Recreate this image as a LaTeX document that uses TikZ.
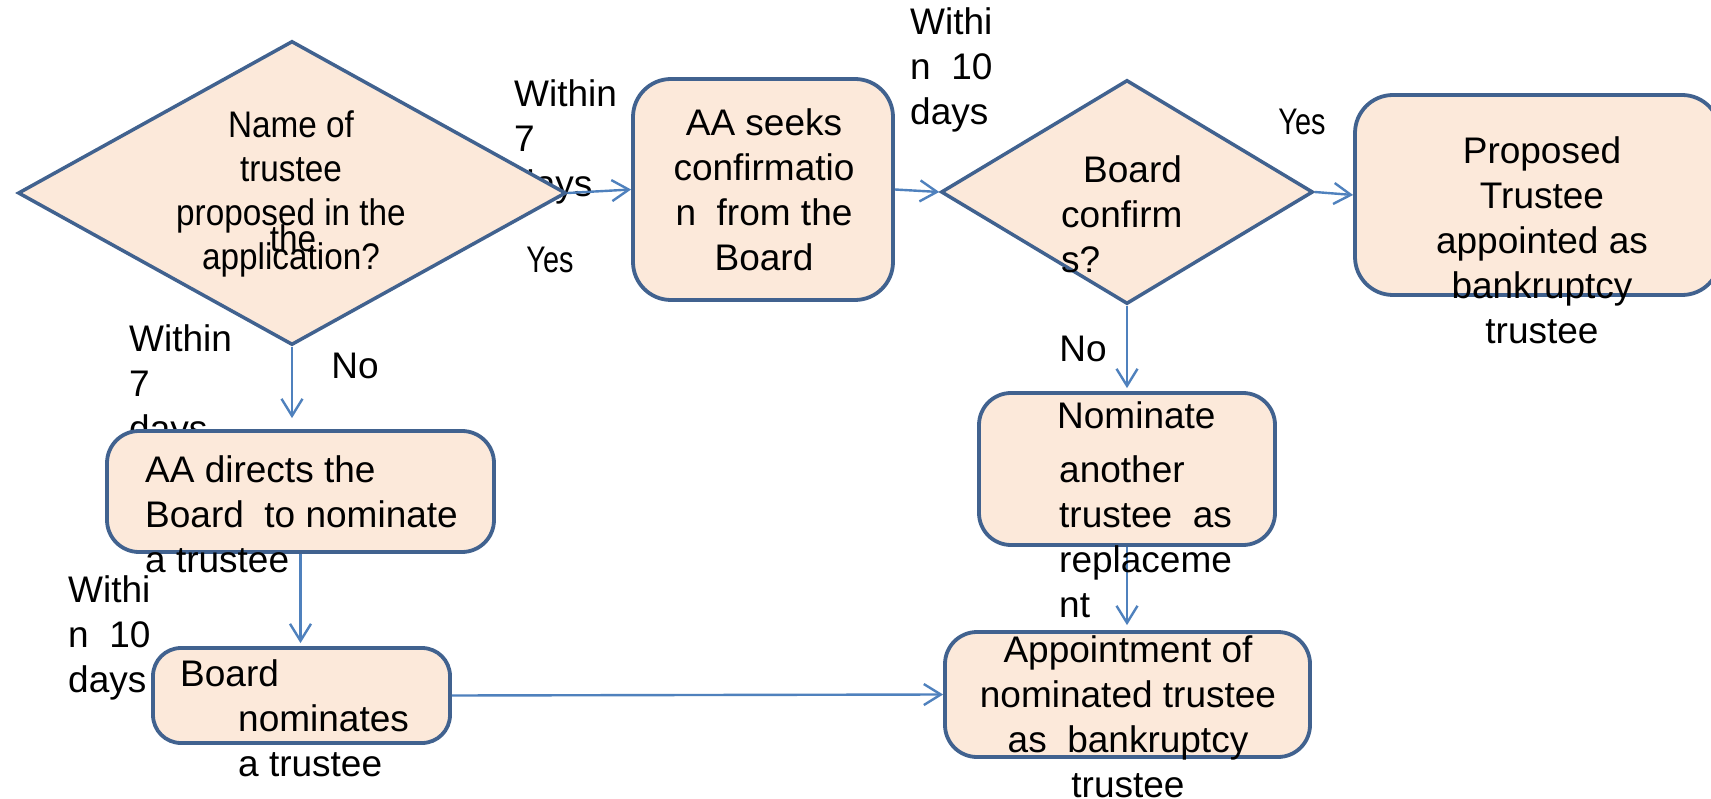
\documentclass[tikz,border=0pt]{standalone}
\usepackage{fontspec}
\setmainfont{Liberation Sans}
\newfontfamily\narrowfont[FakeStretch=0.9]{Liberation Sans}
\newfontfamily\yesfont[FakeStretch=0.78]{Liberation Sans}
\usetikzlibrary{arrows.meta,shapes.geometric}
\definecolor{boxfill}{HTML}{FCE9DA}
\definecolor{boxline}{HTML}{41628F}
\definecolor{flowblue}{HTML}{4F81BD}

\begin{document}
\begin{tikzpicture}[x=1pt,y=-1pt,
  decision/.style={diamond, draw=boxline, fill=boxfill, line width=3.5pt, inner sep=0pt},
  stepbox/.style={rectangle, rounded corners=32pt, draw=boxline, fill=boxfill, line width=3.8pt, inner sep=0pt},
  txt/.style={font=\fontsize{37}{45}\selectfont, inner sep=0pt, text=black},
  ntxt/.style={font=\narrowfont\fontsize{37}{44}\selectfont, inner sep=0pt, text=black},
  ytxt/.style={font=\yesfont\fontsize{37}{44}\selectfont, inner sep=0pt, text=black},
  flow/.style={draw=flowblue, line width=2.4pt, -{Straight Barb[length=17pt,width=21pt]}}
]
% page
\fill[white] (0,0) rectangle (1711,799);
\useasboundingbox (0,0) rectangle (1711,799);

% timing labels (shapes are laid over them)
\node[txt, anchor=west, align=left] (t7a) at (514,142) {Within\\7\\days};
\node[txt, anchor=west, align=left] (t10a) at (910,70) {Withi\\n~ 10\\days};
\node[txt, anchor=west, align=left] (t7b) at (129,387) {Within\\7\\days};
\node[txt, anchor=west, align=left] (t10b) at (68,638) {Withi\\n~ 10\\days};

% decisions
\node[decision, minimum width=548pt, minimum height=304pt] (D1) at (292,193) {};
\node[decision, minimum width=372pt, minimum height=224pt] (D2) at (1127,192) {};

% process boxes
\node[stepbox, rounded corners=38pt, minimum width=260pt, minimum height=221pt] (B1) at (763,189.5) {};
\node[stepbox, rounded corners=38pt, minimum width=365pt, minimum height=200pt] (B2) at (1537.5,195) {};
\node[stepbox, minimum width=387pt, minimum height=121pt] (B3) at (300.5,491.5) {};
\node[stepbox, rounded corners=28pt, minimum width=297pt, minimum height=95pt] (B4) at (301.5,695.5) {};
\node[stepbox, minimum width=296pt, minimum height=152pt] (B5) at (1127,469) {};
\node[stepbox, minimum width=365pt, minimum height=125pt] (B6) at (1127.5,694.5) {};

% connectors
\draw[flow] (D1.east) -- (B1.west);
\draw[flow] (B1.east) -- (D2.west);
\draw[flow] (D2.east) -- (B2.west);
\draw[flow, shorten >=11pt] (D1.south) -- (D1.south |- B3.north);
\draw[flow, shorten >=3pt] (B3.south) -- (B3.south |- B4.north);
\draw[flow] (B4.east) -- (B6.west);
\draw[flow, shorten >=3pt] (D2.south) -- (D2.south |- B5.north);
\draw[flow, shorten >=5pt] (B5.south) -- (B5.south |- B6.north);

% texts
\node[ntxt, align=center] (q1) at (291,194) {Name of\\trustee\\proposed in the\\application?};
\node[ntxt] (q1b) at (293,238) {the};
\node[txt, anchor=west, align=left] (q2) at (1061,214) {\hspace*{22pt}Board\\confirm\\s?};
\node[txt, align=center] (s1) at (764,190) {AA seeks\\confirmatio\\n~ from the\\Board};
\node[txt, align=center] (s2) at (1542,240) {Proposed\\Trustee\\appointed as\\bankruptcy\\trustee};
\node[txt, anchor=west, align=left] (s3) at (145,514) {AA directs the\\Board~ to nominate\\a trustee};
\node[txt, anchor=west, align=left] (s4) at (180,718) {Board\\\hspace*{58pt}nominates\\\hspace*{58pt}a trustee};
\node[txt, anchor=west] (s5a) at (1057,415) {Nominate};
\node[txt, anchor=west, align=left] (s5b) at (1059,537) {another\\trustee~ as\\replaceme\\nt};
\node[txt, align=center] (s6) at (1128,717) {Appointment of\\nominated trustee\\as~ bankruptcy\\trustee};

% branch labels
\node[ytxt] (y1) at (550,260) {Yes};
\node[ytxt] (y2) at (1302,122) {Yes};
\node[txt] (n1) at (355,366) {No};
\node[txt] (n2) at (1083,349) {No};
\end{tikzpicture}
\end{document}
